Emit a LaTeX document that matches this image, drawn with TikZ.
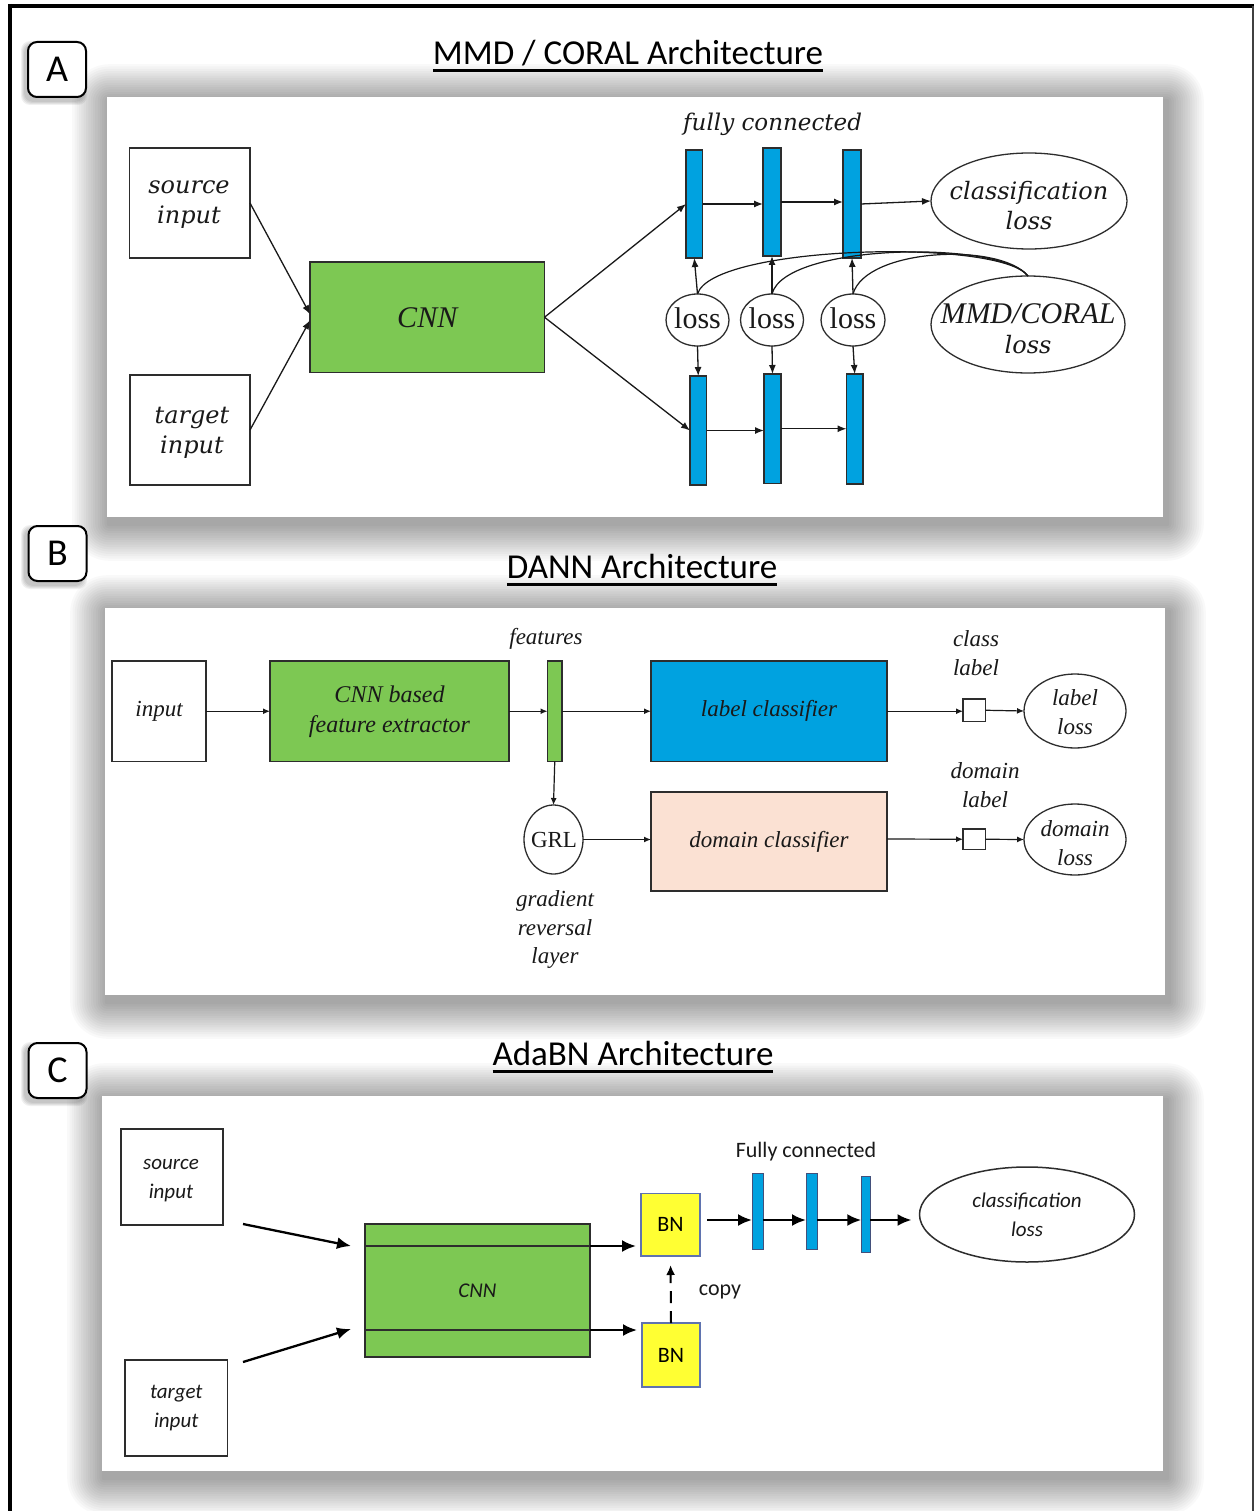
\documentclass[tikz,border=0pt]{standalone}
\usepackage{fontspec}
\setmainfont{Liberation Serif}
\newfontfamily\bookish{DejaVu Serif}
\newfontfamily\timesish{Liberation Serif}
\newfontfamily\calib{Carlito}
\usetikzlibrary{arrows.meta,shapes.geometric,calc}

\definecolor{cnngreen}{RGB}{125,200,83}
\definecolor{fcblue}{RGB}{0,162,224}
\definecolor{dompink}{RGB}{251,225,211}
\definecolor{bnyellow}{RGB}{255,255,51}
\definecolor{bnedge}{RGB}{95,115,175}
\definecolor{ink}{RGB}{25,25,25}
\definecolor{edge}{RGB}{45,45,45}

\newcommand\pxfont[2]{\fontsize{#1}{#2}\selectfont}
% soft drop shadow built from stacked translucent rounded rectangles
% #1,#2 = top-left corner, #3,#4 = bottom-right corner, #5 = layers, #6 = step
\newcommand\softshadow[6]{%
  \foreach \k [evaluate=\k as \r using \k*#6] in {1,...,#5}{
    \fill[black,opacity=0.022,rounded corners=\r pt]
      (#1+2-\r,#2+4-\r) rectangle (#3+4+\r,#4+7+\r);
  }}

\begin{document}
\begin{tikzpicture}[x=1pt,y=-1pt,
  every node/.style={inner sep=0pt,outer sep=0pt,text=ink},
  lettertag/.style={draw=black,line width=2pt,rounded corners=9pt,fill=white,
     minimum width=58pt,minimum height=55pt,font=\calib\pxfont{38}{40},text=black},
  paneltitle/.style={font=\calib\pxfont{35}{40},text=black,anchor=base},
  box/.style={draw=edge,line width=1.3pt,fill=white},
  greenbox/.style={box,fill=cnngreen},
  bar/.style={draw=edge,line width=1.1pt,fill=fcblue},
  oval/.style={ellipse,draw=edge,line width=1.3pt,fill=white},
  fA/.style={font=\bookish\itshape\pxfont{24}{30},align=center},
  fAt/.style={font=\timesish\itshape\pxfont{30}{34}},
  fAu/.style={font=\timesish\pxfont{30}{34}},
  fB/.style={font=\timesish\itshape\pxfont{23}{28.5},align=center},
  fBu/.style={font=\timesish\pxfont{23}{28}},
  fC/.style={font=\calib\itshape\pxfont{21}{29},align=center},
  fCu/.style={font=\calib\pxfont{22}{26}},
  arA/.style={draw=ink,line width=1.3pt,-{Latex[length=9pt,width=7pt]}},
  arB/.style={draw=ink,line width=1.2pt,-{Latex[length=7pt,width=6pt]}},
  arC/.style={draw=black,line width=2.3pt,-{Latex[length=14pt,width=12pt]}},
  link/.style={draw=ink,line width=1.2pt}
]
\useasboundingbox (0,0) rectangle (1254,1511);
\fill[white] (0,0) rectangle (1254,1511);

% panel backgrounds with their shadows
\softshadow{107}{97}{1163}{517}{16}{2.3}
\fill[white] (107,97) rectangle (1163,517);
\softshadow{105}{608}{1165}{995}{16}{2.3}
\fill[white] (105,608) rectangle (1165,995);
\softshadow{102}{1096}{1163}{1471}{16}{2.3}
\fill[white] (102,1096) rectangle (1163,1471);

% outer frame (open at the bottom)
\draw[line width=4pt,black] (8,6) -- (1254,6);
\draw[line width=3.5pt,black] (10,4) -- (10,1511);
\draw[line width=2pt,black!75] (1252.5,6) -- (1252.5,1511);

% small shadows behind the panel letters
\foreach \cy in {69.5,553.5,1070.5}{
  \foreach \k in {1,...,4}{
    \fill[black,opacity=0.06,rounded corners=9pt]
      (28-3-\k,\cy-27.5+3-\k) rectangle (86-3+\k,\cy+27.5+4+\k);
  }}

% ---------------- panel A: MMD / CORAL ----------------
\node[lettertag] (tagA) at (57,69.5) {A};
\node[paneltitle] (titleA) at (628,65) {MMD / CORAL Architecture};
\draw[line width=3pt,black] ($(titleA.base west)+(0,5.5)$) -- ($(titleA.base east)+(0,5.5)$);

\node[box,minimum width=120.5pt,minimum height=110pt] (srcA) at (189.75,203) {};
\node[fA] (srcAt) at (189,205) {source\\input};
\node[box,minimum width=120pt,minimum height=110pt] (tgtA) at (190,430) {};
\node[fA] (tgtAt) at (192,433) {target\\input};
\node[greenbox,minimum width=234.5pt,minimum height=110.5pt,fAt] (cnnA) at (427.25,317.25) {CNN};

\node[bar,minimum width=16.5pt,minimum height=108pt] (t1) at (694.25,204) {};
\node[bar,minimum width=18pt,minimum height=108pt] (t2) at (772,202) {};
\node[bar,minimum width=18pt,minimum height=108pt] (t3) at (852,204) {};
\node[bar,minimum width=16.5pt,minimum height=109pt] (b1) at (698.25,430.5) {};
\node[bar,minimum width=17pt,minimum height=109.5pt] (b2) at (772.5,428.75) {};
\node[bar,minimum width=16.5pt,minimum height=110pt] (b3) at (854.75,429) {};
\node[fA,font=\bookish\itshape\pxfont{23}{28}] (fcA) at (772.6,124) {fully connected};

\node[oval,minimum width=63pt,minimum height=52pt] (l1) at (697.5,320) {};
\node[oval,minimum width=63pt,minimum height=52pt] (l2) at (772,320) {};
\node[oval,minimum width=64pt,minimum height=52pt] (l3) at (853,320) {};
\node[fAu] (l1t) at (697.5,318) {loss};
\node[fAu] (l2t) at (772,318) {loss};
\node[fAu] (l3t) at (853,318) {loss};

\node[oval,minimum width=196pt,minimum height=96pt] (clsA) at (1029,201) {};
\node[fA] (clsAt) at (1029,206) {classification\\loss};
\node[oval,minimum width=194pt,minimum height=97pt] (mmd) at (1028,324.5) {};
\node[fAt] (mmdt) at (1028,314) {MMD/CORAL};
\node[fA] (mmdl) at (1028,345) {loss};

\draw[arA] (srcA.east) -- ($(cnnA.west)+(0,-3)$);
\draw[arA] (tgtA.east) -- ($(cnnA.west)+(0,3)$);
\draw[arA] (cnnA.east) -- (t1.west);
\draw[arA] (cnnA.east) -- (b1.west);
\draw[arA] (t1.east) -- (t1.east -| t2.west);
\draw[arA] (t2.east) -- (t2.east -| t3.west);
\draw[arA] (t3.east) -- (clsA.west);
\draw[arA] (b1.east) -- (b1.east -| b2.west);
\draw[arA] (b2.east) -- (b2.east -| b3.west);
\foreach \i in {1,2,3}{
  \draw[arA] (l\i.north) -- (t\i.south);
  \draw[arA] (l\i.south) -- (b\i.north);
}
\draw[link] (l1.north) .. controls (712,245) and (1000,238) .. (mmd.north);
\draw[link] (l2.north) .. controls (785,243) and (1000,240) .. (mmd.north);
\draw[link] (l3.north) .. controls (866,248) and (1000,242) .. (mmd.north);

% ---------------- panel B: DANN ----------------
\node[lettertag] (tagB) at (57.5,553.5) {B};
\node[paneltitle] (titleB) at (642,578.5) {DANN Architecture};
\draw[line width=3pt,black] ($(titleB.base west)+(0,5.5)$) -- ($(titleB.base east)+(0,5.5)$);

\node[box,minimum width=94pt,minimum height=100.5pt,fB] (inB) at (159,711.25) {input};
\node[greenbox,minimum width=239pt,minimum height=100.5pt,fB,font=\timesish\itshape\pxfont{24}{30}] (fe) at (389.5,711.25) {CNN based\\feature extractor};
\node[greenbox,minimum width=14.5pt,minimum height=100.5pt] (feat) at (554.75,711.25) {};
\node[fB] (featt) at (546,639) {features};
\node[box,fill=fcblue,minimum width=236pt,minimum height=100.5pt,fB] (lc) at (769,711.25) {label classifier};
\node[box,fill=dompink,minimum width=236pt,minimum height=99pt,fB] (dc) at (769,841.5) {domain classifier};
\node[oval,minimum width=59pt,minimum height=69pt] (grl) at (553.5,839.5) {};
\node[fBu] (grlt) at (554,840) {GRL};
\node[fB] (grlcap) at (555,929.5) {gradient\\reversal\\layer};

\node[box,line width=1.2pt,minimum width=22.5pt,minimum height=22.5pt] (csq) at (974.25,710.25) {};
\node[box,line width=1.2pt,minimum width=22.5pt,minimum height=20.5pt] (dsq) at (974.25,839.25) {};
\node[fB] (csqt) at (976,653) {class\\label};
\node[fB] (dsqt) at (985,785) {domain\\label};
\node[oval,minimum width=102pt,minimum height=74pt] (lloss) at (1075,711) {};
\node[fB] (llosst) at (1075,712) {label\\loss};
\node[oval,minimum width=102pt,minimum height=71pt] (dloss) at (1075,839.5) {};
\node[fB] (dlosst) at (1075,843) {domain\\loss};

\draw[arB] (inB.east) -- (fe.west);
\draw[arB] (fe.east) -- (feat.west);
\draw[arB] (feat.east) -- (lc.west);
\draw[arB] (feat.south) -- (grl.north);
\draw[arB] (grl.east) -- (grl.east -| dc.west);
\draw[arB] (lc.east) -- (lc.east -| csq.west);
\draw[arB] (csq.east) -- (lloss.west);
\draw[arB] ($(dc.east)+(0,-2.5)$) -- (dsq.west);
\draw[arB] (dsq.east) -- (dloss.west);

% ---------------- panel C: AdaBN ----------------
\node[lettertag] (tagC) at (57.5,1070.5) {C};
\node[paneltitle] (titleC) at (633,1065.5) {AdaBN Architecture};
\draw[line width=3pt,black] ($(titleC.base west)+(0,5.5)$) -- ($(titleC.base east)+(0,5.5)$);

\node[box,line width=1.5pt,minimum width=102pt,minimum height=96pt] (srcC) at (172,1177) {};
\node[fC] (srcCt) at (171,1181) {source\\input};
\node[box,line width=1.5pt,minimum width=102.5pt,minimum height=96pt,fC] (tgtC) at (176.25,1408) {target\\input};
\node[greenbox,line width=1.6pt,minimum width=225pt,minimum height=133pt,fC] (cnnC) at (477.5,1290.5) {CNN};
\coordinate (cnnTopW) at ($(cnnC.north west)+(0,22)$);
\coordinate (cnnTopE) at ($(cnnC.north east)+(0,22)$);
\coordinate (cnnBotW) at ($(cnnC.south west)+(0,-27)$);
\coordinate (cnnBotE) at ($(cnnC.south east)+(0,-27)$);
\draw[draw=edge,line width=1.6pt] (cnnTopW) -- (cnnTopE);
\draw[draw=edge,line width=1.6pt] (cnnBotW) -- (cnnBotE);

\node[draw=bnedge,line width=1.3pt,fill=bnyellow,minimum width=59pt,minimum height=62.5pt,fCu,text=black] (bn1) at (670.5,1224.75) {BN};
\node[draw=bnedge,line width=1.3pt,fill=bnyellow,minimum width=58pt,minimum height=64pt,fCu,text=black] (bn2) at (671,1355) {BN};
\node[fCu] (copyt) at (720,1292) {copy};

\node[draw=bnedge!70!black,line width=0.8pt,fill=fcblue,minimum width=11pt,minimum height=76pt] (fc1) at (757.5,1211) {};
\node[draw=bnedge!70!black,line width=0.8pt,fill=fcblue,minimum width=11pt,minimum height=76pt] (fc2) at (811.5,1211) {};
\node[draw=bnedge!70!black,line width=0.8pt,fill=fcblue,minimum width=9pt,minimum height=76pt] (fc3) at (865.75,1214) {};
\node[fCu] (fcC) at (806,1152) {Fully connected};
\node[oval,line width=1.5pt,minimum width=215pt,minimum height=95pt] (clsC) at (1027,1214.5) {};
\node[fC] (clsCt) at (1027,1215) {classification\\loss};

\coordinate (srcOut) at (243,1224);
\coordinate (srcIn) at (351,1246);
\coordinate (tgtOut) at (243,1362);
\coordinate (tgtIn) at (351,1329);
\coordinate (rowC) at (0,1220);
\draw[arC] (srcOut) -- (srcIn);
\draw[arC] (tgtOut) -- (tgtIn);
\draw[arC,shorten >=5pt] (cnnTopE) -- (cnnTopE -| bn1.west);
\draw[arC,shorten >=5pt] (cnnBotE) -- (cnnBotE -| bn2.west);
\draw[arC,shorten <=7pt] (bn1.east |- rowC) -- (fc1.west |- rowC);
\draw[arC] (fc1.east |- rowC) -- (fc2.west |- rowC);
\draw[arC] (fc2.east |- rowC) -- (fc3.west |- rowC);
\draw[arC,shorten >=8pt] (fc3.east |- rowC) -- (clsC.west |- rowC);
\draw[draw=black,line width=2pt,dash pattern=on 12pt off 8pt,-{Latex[length=10pt,width=9pt]},shorten >=9pt] (bn2.north) -- (bn1.south);
\end{tikzpicture}
\end{document}
